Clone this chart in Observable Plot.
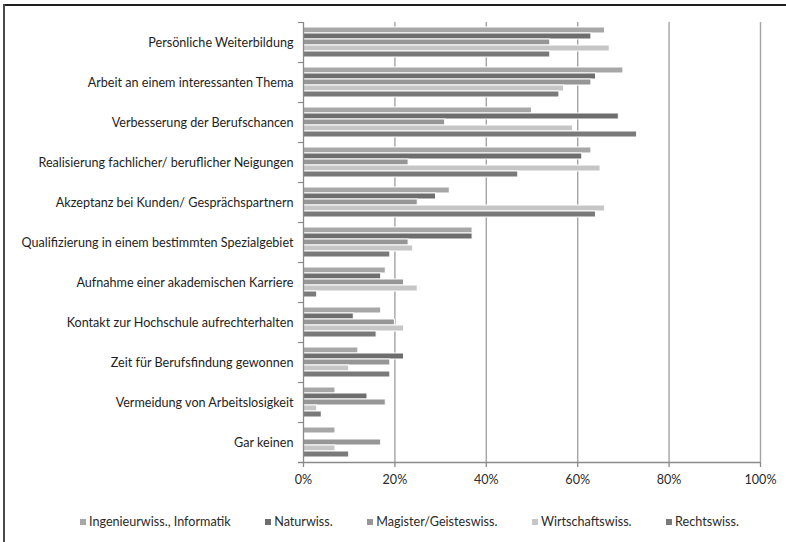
<!DOCTYPE html>
<html>
<head>
<meta charset="utf-8">
<script src="https://cdn.jsdelivr.net/npm/d3@7"></script>
<script src="https://cdn.jsdelivr.net/npm/@observablehq/plot@0.6"></script>
<style>
  html, body { margin: 0; padding: 0; background: #fff; }
  body { width: 786px; height: 542px; position: relative; overflow: hidden; font-family: Lato, "Open Sans", sans-serif; }
  #frameTop { position: absolute; left: 3px; top: 4px; width: 783px; height: 2px; background: #1e1e1e; }
  #frameLeft { position: absolute; left: 3px; top: 4px; width: 2px; height: 538px; background: #4a4a4a; }
  #chart { position: absolute; left: 0; top: 0; }
  #legend { position: absolute; left: 80px; top: 514px; display: flex; gap: 34.5px; font-size: 12.6px; color: #2a2a2a; white-space: nowrap; }
  #legend .item { display: flex; align-items: center; }
  #legend .sw { width: 6px; height: 6px; margin-right: 3px; }
</style>
</head>
<body>
<div id="chart"></div>
<div id="legend"></div>
<div id="frameTop"></div>
<div id="frameLeft"></div>
<script>
const categories = [
  "Persönliche Weiterbildung",
  "Arbeit an einem interessanten Thema",
  "Verbesserung der Berufschancen",
  "Realisierung fachlicher/ beruflicher Neigungen",
  "Akzeptanz bei Kunden/ Gesprächspartnern",
  "Qualifizierung in einem bestimmten Spezialgebiet",
  "Aufnahme einer akademischen Karriere",
  "Kontakt zur Hochschule aufrechterhalten",
  "Zeit für Berufsfindung gewonnen",
  "Vermeidung von Arbeitslosigkeit",
  "Gar keinen"
];
const seriesNames = ["Ingenieurwiss., Informatik", "Naturwiss.", "Magister/Geisteswiss.", "Wirtschaftswiss.", "Rechtswiss."];
const seriesColors = ["#a7a7a7", "#6e6e6e", "#969696", "#c6c6c6", "#7a7a7a"];
const ingenieur  = [66, 70, 50, 63, 32, 37, 18, 17, 12, 7, 7];
const natur      = [63, 64, 69, 61, 29, 37, 17, 11, 22, 14, 0];
const magister   = [54, 63, 31, 23, 25, 23, 22, 20, 19, 18, 17];
const wirtschaft = [67, 57, 59, 65, 66, 24, 25, 22, 10, 3, 7];
const recht      = [54, 56, 73, 47, 64, 19, 3, 16, 19, 4, 10];
const xTicks = [0, 20, 40, 60, 80, 100];

const seriesValues = [ingenieur, natur, magister, wirtschaft, recht];
const axisColor = "#8a8a8a";

const barMarks = seriesValues.map((vals, i) =>
  Plot.barX(categories.map((c, j) => ({cat: c, v: vals[j]})).filter(d => d.v > 0), {
    y: "cat", x: "v",
    fill: seriesColors[i],
    stroke: "white", strokeWidth: 1,
    insetTop: 5 + 6 * i, insetBottom: 29 - 6 * i
  })
);

const chart = Plot.plot({
  width: 786, height: 500,
  marginTop: 22, marginBottom: 38, marginLeft: 303, marginRight: 26,
  style: {fontFamily: "Lato, 'Open Sans', sans-serif", fontSize: "12.6px", color: "#222", background: "white"},
  x: {domain: [0, 100], axis: null, label: null},
  y: {domain: categories, padding: 0, axis: null, label: null},
  marks: [
    Plot.ruleX(xTicks.filter(d => d > 0), {stroke: "#a4a4a4", strokeWidth: 1.4}),
    ...barMarks,
    Plot.ruleX([0], {stroke: axisColor, strokeWidth: 1.3}),
    Plot.ruleY([categories[categories.length - 1]], {dy: 20, stroke: axisColor, strokeWidth: 1.3, insetLeft: -5}),
    Plot.ruleY(categories, {y: d => d, dy: -20, x1: 0, x2: 0, insetLeft: -5, stroke: axisColor, strokeWidth: 1.2}),
    Plot.axisX({ticks: xTicks, tickFormat: d => d + "%", tickSize: 5, tickPadding: 8, stroke: axisColor, strokeWidth: 1.3, fill: "#2a2a2a", fontSize: 12.6, label: null}),
    Plot.axisY({tickSize: 0, tickPadding: 10, fill: "#1e1e1e", fontSize: 12.6, label: null})
  ]
});
document.getElementById("chart").appendChild(chart);

const legend = document.getElementById("legend");
seriesNames.forEach((name, i) => {
  const item = document.createElement("div");
  item.className = "item";
  const sw = document.createElement("span");
  sw.className = "sw";
  sw.style.background = seriesColors[i];
  const label = document.createElement("span");
  label.textContent = name;
  item.appendChild(sw);
  item.appendChild(label);
  legend.appendChild(item);
});
</script>
</body>
</html>
